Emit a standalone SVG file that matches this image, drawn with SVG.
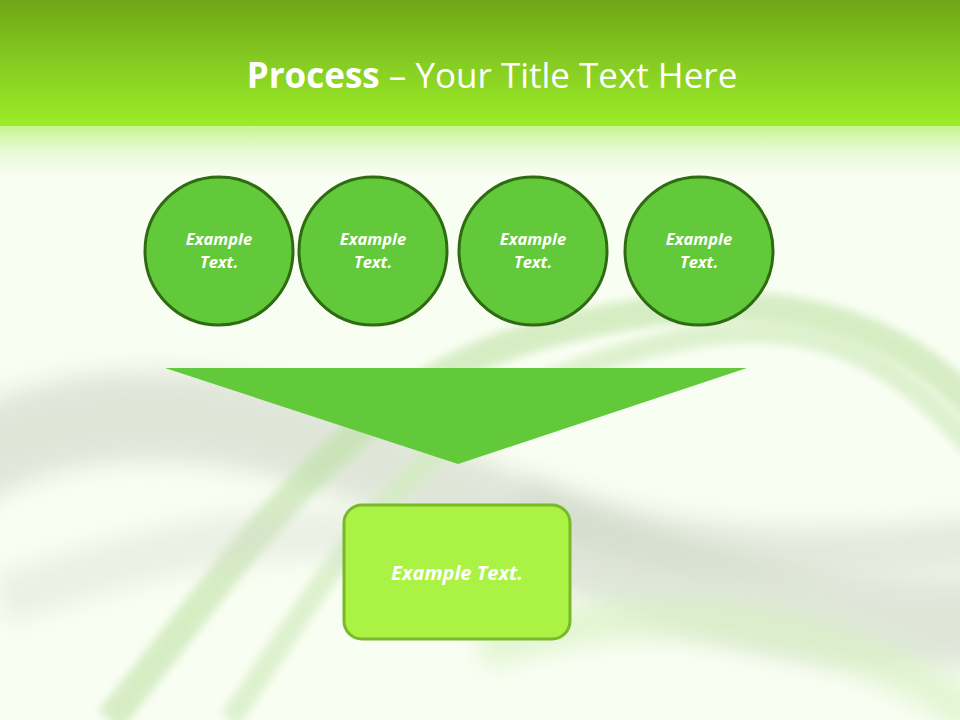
<svg xmlns="http://www.w3.org/2000/svg" width="960" height="720" viewBox="0 0 960 720">
  <defs>
    <linearGradient id="hdr" x1="0" y1="0" x2="0" y2="1">
      <stop offset="0" stop-color="#6ea617"/>
      <stop offset="0.5" stop-color="#86cc22"/>
      <stop offset="1" stop-color="#9bec28"/>
    </linearGradient>
    <linearGradient id="fade" x1="0" y1="0" x2="0" y2="1">
      <stop offset="0" stop-color="#c8f590"/>
      <stop offset="0.5" stop-color="#e6fad4"/>
      <stop offset="1" stop-color="#f8fdf1"/>
    </linearGradient>
    <filter id="blur" filterUnits="userSpaceOnUse" x="-100" y="-100" width="1160" height="920">
      <feGaussianBlur stdDeviation="12"/>
    </filter>
    <filter id="blurS" filterUnits="userSpaceOnUse" x="-100" y="-100" width="1160" height="920">
      <feGaussianBlur stdDeviation="4"/>
    </filter>
    <style>
      .circ { fill: #62c93a; stroke: #2e6b12; stroke-width: 3; }
      .lbl { fill: #ffffff; font-family: "Open Sans", "Noto Sans", sans-serif; font-weight: bold; font-style: italic; text-anchor: middle; }
    </style>
  </defs>

  <!-- background -->
  <rect x="0" y="0" width="960" height="720" fill="#f9fef3"/>
  <g id="swooshes" fill="none">
    <path d="M -60 480 C 60 390, 240 400, 420 480 S 760 640, 1020 620" stroke="#c6cfbf" stroke-width="90" opacity="0.5" filter="url(#blur)"/>
    <path d="M 520 500 C 680 560, 820 560, 1000 540" stroke="#c9d3c2" stroke-width="50" opacity="0.45" filter="url(#blur)"/>
    <path d="M 110 720 C 240 560, 340 390, 540 335 S 900 300, 1000 440" stroke="#bfe2a6" stroke-width="30" opacity="0.6" filter="url(#blurS)"/>
    <path d="M 230 720 C 320 590, 400 430, 590 365 S 880 330, 990 470" stroke="#d2ecc0" stroke-width="22" opacity="0.7" filter="url(#blurS)"/>
    <path d="M 480 650 C 660 590, 840 620, 980 720" stroke="#d8f2c4" stroke-width="40" opacity="0.7" filter="url(#blur)"/>
    <path d="M 0 600 C 120 560, 260 520, 360 540" stroke="#d4dccf" stroke-width="50" opacity="0.4" filter="url(#blur)"/>
  </g>

  <!-- header -->
  <rect x="0" y="0" width="960" height="126" fill="url(#hdr)"/>
  <rect x="0" y="126" width="960" height="50" fill="url(#fade)"/>

  <g id="title">
    <text x="492" y="88" text-anchor="middle" font-family="'Open Sans', 'Noto Sans', sans-serif" font-size="35" fill="#ffffff"><tspan font-weight="bold">Process</tspan> – Your Title Text Here</text>
  </g>

  <g id="node1">
    <circle class="circ" cx="219" cy="251" r="74"/>
    <text class="lbl" x="219" y="245" font-size="16.5">Example</text>
    <text class="lbl" x="219" y="268" font-size="16.5">Text.</text>
  </g>
  <g id="node2">
    <circle class="circ" cx="373" cy="251" r="74"/>
    <text class="lbl" x="373" y="245" font-size="16.5">Example</text>
    <text class="lbl" x="373" y="268" font-size="16.5">Text.</text>
  </g>
  <g id="node3">
    <circle class="circ" cx="533" cy="251" r="74"/>
    <text class="lbl" x="533" y="245" font-size="16.5">Example</text>
    <text class="lbl" x="533" y="268" font-size="16.5">Text.</text>
  </g>
  <g id="node4">
    <circle class="circ" cx="699" cy="251" r="74"/>
    <text class="lbl" x="699" y="245" font-size="16.5">Example</text>
    <text class="lbl" x="699" y="268" font-size="16.5">Text.</text>
  </g>

  <g id="connectors">
    <polygon points="165,368 747,368 458,464" fill="#62c93a"/>
  </g>

  <g id="result">
    <rect x="344" y="505" width="226" height="134" rx="18" ry="18" fill="#aaf244" stroke="#78b82a" stroke-width="3"/>
    <text class="lbl" x="457" y="580" font-size="20">Example Text.</text>
  </g>
</svg>
